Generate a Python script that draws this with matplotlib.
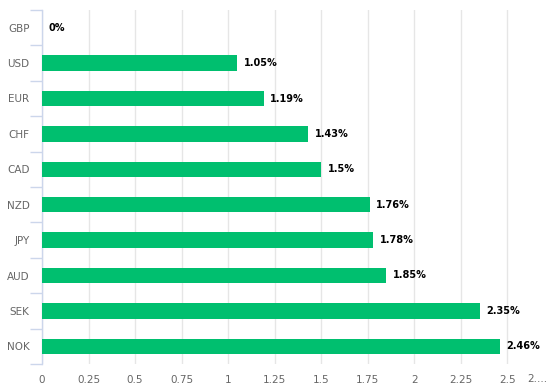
import matplotlib
matplotlib.use("Agg")
import matplotlib.pyplot as plt

categories = ["GBP", "USD", "EUR", "CHF", "CAD", "NZD", "JPY", "AUD", "SEK", "NOK"]
values = [0, 1.05, 1.19, 1.43, 1.5, 1.76, 1.78, 1.85, 2.35, 2.46]
labels = ["0%", "1.05%", "1.19%", "1.43%", "1.5%", "1.76%", "1.78%", "1.85%", "2.35%", "2.46%"]
xticks = [0, 0.25, 0.5, 0.75, 1, 1.25, 1.5, 1.75, 2, 2.25, 2.5]
xticklabels = ["0", "0.25", "0.5", "0.75", "1", "1.25", "1.5", "1.75", "2", "2.25", "2.5"]

W, H = 553, 391
fig = plt.figure(figsize=(W / 100, H / 100), dpi=100)
ax = fig.add_axes([42 / W, 1 - 364 / H, (554 - 42) / W, (364 - 10) / H])

y = list(range(len(categories)))
ax.barh(y, values, height=0.43, color="#00bf6f", zorder=3)
ax.set_ylim(len(categories) - 0.5, -0.5)
ax.set_xlim(0, 2.75)

for yi, v, lab in zip(y, values, labels):
    ax.annotate(lab, (v, yi), xytext=(4.5, 0), textcoords="offset points",
                va="center", ha="left", fontsize=7, fontweight="bold", color="black", zorder=4)

ax.set_xticks(xticks)
ax.set_xticklabels(xticklabels)
ax.tick_params(axis="x", length=0, pad=8, labelsize=7.5, labelcolor="#666666")
ax.grid(axis="x", color="#e6e6e6", linewidth=1, zorder=0)

ax.set_yticks(y)
ax.set_yticklabels(categories)
ax.tick_params(axis="y", length=0, pad=9, labelsize=7.5, labelcolor="#666666")
bounds = [i - 0.5 for i in range(len(categories) + 1)]
ax.set_yticks(bounds, minor=True)
ax.tick_params(axis="y", which="minor", length=9, width=1, color="#ccd6eb", direction="out")

for s in ["top", "right", "bottom"]:
    ax.spines[s].set_visible(False)
ax.spines["left"].set_color("#ccd6eb")
ax.spines["left"].set_linewidth(1)

fig.text(537 / W, 1 - 379 / H, "2....", fontsize=7.5, color="#666666", ha="center", va="center")

fig.savefig("out.png", dpi=100)
